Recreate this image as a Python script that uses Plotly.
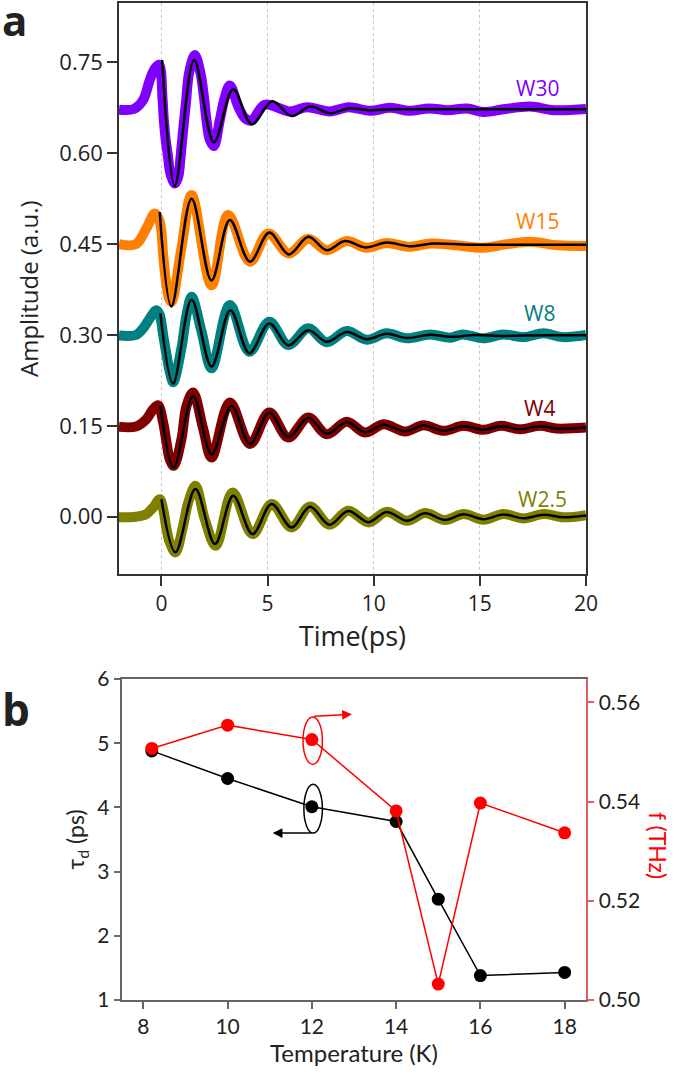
import plotly.graph_objects as go

# ---------------- Panel a: data ----------------
series_names = ["W30", "W15", "W8", "W4", "W2.5"]
series_colors = ["#8000ff", "#ff8000", "#008080", "#800000", "#808000"]

w30_t = [-2.0, -1.3, -0.86, -0.55, -0.31, -0.11, 0.05, 0.11, 0.20, 0.31, 0.39, 0.52, 0.63, 0.79, 0.90, 1.02, 1.15, 1.30, 1.57, 1.84, 2.0, 2.12, 2.28, 2.47, 2.75, 2.99, 3.22, 3.62, 3.93, 4.25, 4.87, 6.05, 6.84, 7.94, 8.81, 9.83, 10.77, 11.7, 12.6, 13.5, 14.4, 15.17, 16.2, 17.37, 18.5, 20.0]
w30_a = [0.672, 0.673, 0.688, 0.721, 0.740, 0.746, 0.690, 0.655, 0.622, 0.594, 0.572, 0.556, 0.550, 0.561, 0.594, 0.638, 0.682, 0.732, 0.762, 0.732, 0.693, 0.655, 0.622, 0.612, 0.655, 0.693, 0.712, 0.677, 0.658, 0.654, 0.680, 0.669, 0.676, 0.669, 0.676, 0.670, 0.675, 0.670, 0.674, 0.671, 0.674, 0.668, 0.673, 0.677, 0.671, 0.673]
w30_fit_t = [0.03, 0.63, 1.54, 2.47, 3.38, 4.25, 5.22, 6.13, 7.0, 7.94, 8.81, 9.83, 11.0, 14.0, 17.0, 20.0]
w30_fit_a = [0.754, 0.546, 0.754, 0.618, 0.7055, 0.648, 0.686, 0.6615, 0.677, 0.666, 0.674, 0.671, 0.6725, 0.6725, 0.6725, 0.6725]

w15_t = [-2.0, -1.2, -0.71, -0.31, -0.08, 0.08, 0.16, 0.24, 0.36, 0.47, 0.94, 1.42, 2.36, 3.14, 4.17, 5.03, 6.0, 6.92, 7.78, 8.73, 9.67, 10.6, 11.7, 12.66, 13.9, 15.17, 16.3, 17.37, 18.7, 20.0]
w15_a = [0.450, 0.450, 0.476, 0.5005, 0.487, 0.432, 0.404, 0.382, 0.360, 0.355, 0.443, 0.531, 0.382, 0.498, 0.421, 0.4676, 0.4346, 0.459, 0.440, 0.455, 0.444, 0.452, 0.4456, 0.451, 0.448, 0.444, 0.450, 0.454, 0.448, 0.447]
w15_fit_t = [-0.08, 0.47, 1.42, 2.36, 3.22, 4.17, 5.08, 6.0, 6.92, 7.78, 8.65, 9.6, 10.6, 11.7, 12.8, 14.5, 17.0, 20.0]
w15_fit_a = [0.503, 0.347, 0.525, 0.390, 0.490, 0.421, 0.469, 0.433, 0.462, 0.440, 0.455, 0.4445, 0.4525, 0.4465, 0.451, 0.449, 0.449, 0.449]

w8_t = [-2.0, -1.2, -0.86, -0.55, -0.24, -0.08, 0.08, 0.24, 0.39, 0.55, 0.94, 1.18, 1.42, 1.89, 2.36, 3.22, 4.14, 5.08, 5.97, 6.92, 7.78, 8.73, 9.67, 10.6, 11.56, 12.66, 13.6, 14.2, 15.17, 16.1, 17.06, 18.0, 18.9, 20.0]
w8_a = [0.299, 0.300, 0.311, 0.3275, 0.341, 0.333, 0.300, 0.267, 0.2396, 0.222, 0.278, 0.333, 0.363, 0.3055, 0.245, 0.3494, 0.2725, 0.322, 0.2835, 0.311, 0.288, 0.3066, 0.292, 0.3027, 0.2945, 0.301, 0.2956, 0.301, 0.2945, 0.301, 0.2965, 0.3027, 0.2965, 0.300]
w8_fit_t = [-0.05, 0.55, 1.42, 2.36, 3.25, 4.14, 5.08, 5.97, 6.92, 7.78, 8.73, 9.67, 10.6, 11.56, 12.66, 13.6, 14.8, 16.0, 18.0, 20.0]
w8_fit_a = [0.3357, 0.220, 0.358, 0.248, 0.341, 0.270, 0.319, 0.283, 0.308, 0.289, 0.305, 0.293, 0.302, 0.295, 0.3005, 0.297, 0.300, 0.2985, 0.2995, 0.2995]

w4_t = [-2.0, -1.2, -0.71, -0.39, -0.16, 0.08, 0.24, 0.39, 0.58, 0.94, 1.18, 1.49, 1.97, 2.36, 3.22, 4.17, 5.08, 5.97, 6.92, 7.78, 8.73, 9.59, 10.46, 11.48, 12.34, 13.29, 14.23, 15.17, 15.96, 16.9, 17.85, 18.6, 20.0]
w4_a = [0.1484, 0.149, 0.161, 0.1775, 0.184, 0.1555, 0.1225, 0.095, 0.084, 0.128, 0.183, 0.205, 0.1445, 0.0978, 0.1885, 0.120, 0.172, 0.1308, 0.1637, 0.1363, 0.1566, 0.139, 0.1527, 0.1407, 0.151, 0.1418, 0.150, 0.1434, 0.150, 0.1445, 0.150, 0.1456, 0.1473]
w4_fit_t = [-0.05, 0.58, 1.49, 2.36, 3.3, 4.17, 5.08, 5.97, 6.92, 7.78, 8.73, 9.59, 10.46, 11.48, 12.34, 13.29, 14.23, 15.17, 15.96, 16.9, 17.85, 18.6, 20.0]
w4_fit_a = [0.183, 0.081, 0.1995, 0.103, 0.183, 0.120, 0.172, 0.1315, 0.163, 0.137, 0.156, 0.1395, 0.152, 0.141, 0.1505, 0.142, 0.1495, 0.1435, 0.1495, 0.1445, 0.1495, 0.1455, 0.1475]

w25_t = [-2.0, -1.2, -0.71, -0.39, -0.08, 0.08, 0.24, 0.39, 0.66, 1.02, 1.26, 1.60, 2.04, 2.56, 3.35, 4.29, 5.19, 6.13, 7.0, 7.91, 8.8, 9.75, 10.61, 11.56, 12.42, 13.36, 14.23, 15.17, 16.1, 17.06, 18.0, 18.95, 20.0]
w25_a = [-0.001, 0.000, 0.0044, 0.0154, 0.029, 0.0126, -0.0203, -0.0423, -0.0588, -0.0148, 0.0236, 0.0511, -0.0038, -0.0478, 0.040, -0.0286, 0.0209, -0.0176, 0.0170, -0.0132, 0.0099, -0.0093, 0.0082, -0.0066, 0.006, -0.0055, 0.0044, -0.005, 0.0044, -0.0027, 0.0044, -0.001, 0.0027]
w25_fit_t = [0.0, 0.66, 1.60, 2.52, 3.38, 4.29, 5.19, 6.13, 7.0, 7.91, 8.8, 9.75, 10.61, 11.56, 12.42, 13.36, 14.23, 15.17, 16.1, 17.06, 18.0, 18.95, 20.0]
w25_fit_a = [0.029, -0.0588, 0.0456, -0.045, 0.0346, -0.0286, 0.0209, -0.0176, 0.0165, -0.0132, 0.0095, -0.009, 0.008, -0.0066, 0.0058, -0.0052, 0.0042, -0.004, 0.0038, -0.0025, 0.0035, -0.001, 0.002]

data_t = [w30_t, w15_t, w8_t, w4_t, w25_t]
data_a = [w30_a, w15_a, w8_a, w4_a, w25_a]
fit_t = [w30_fit_t, w15_fit_t, w8_fit_t, w4_fit_t, w25_fit_t]
fit_a = [w30_fit_a, w15_fit_a, w8_fit_a, w4_fit_a, w25_fit_a]

label_t = [17.72, 17.72, 17.8, 17.8, 17.95]
label_a = [0.707, 0.4885, 0.3357, 0.180, 0.030]

a_xticks = [0, 5, 10, 15, 20]
a_yticks = [0.0, 0.15, 0.30, 0.45, 0.60, 0.75]

# ---------------- Panel b: data ----------------
temperature = [8.2, 10, 12, 14, 15, 16, 18]
tau_d = [4.88, 4.45, 4.01, 3.78, 2.57, 1.38, 1.43]
freq = [0.5507, 0.5554, 0.5525, 0.5381, 0.5032, 0.5397, 0.5337]

b_xticks = [8, 10, 12, 14, 16, 18]
b_yticks = [1, 2, 3, 4, 5, 6]
b_y2ticks = [0.50, 0.52, 0.54, 0.56]

fig = go.Figure()

for name, col, dt, da, ft, fa in zip(series_names, series_colors, data_t, data_a, fit_t, fit_a):
    fig.add_trace(go.Scatter(x=dt, y=da, mode="lines", name=name,
                             line=dict(color=col, width=10, shape="spline", smoothing=1.0),
                             xaxis="x", yaxis="y", showlegend=False))
    fig.add_trace(go.Scatter(x=ft, y=fa, mode="lines", name=name + " fit",
                             line=dict(color="black", width=2.5, shape="spline", smoothing=1.0),
                             xaxis="x", yaxis="y", showlegend=False))

annotations = []
for name, col, lt, la in zip(series_names, series_colors, label_t, label_a):
    annotations.append(dict(x=lt, y=la, xref="x", yref="y", text=name, showarrow=False,
                            font=dict(family="Open Sans", size=21, color=col)))

fig.add_trace(go.Scatter(x=temperature, y=tau_d, mode="lines+markers", name="tau_d",
                         line=dict(color="black", width=1.5),
                         marker=dict(color="black", size=13),
                         xaxis="x2", yaxis="y2", showlegend=False))
fig.add_trace(go.Scatter(x=temperature, y=freq, mode="lines+markers", name="f",
                         line=dict(color="#ff0000", width=1.5),
                         marker=dict(color="#ff0000", size=13),
                         xaxis="x2", yaxis="y3", showlegend=False))

shapes = [
    dict(type="circle", xref="x2", yref="y2", x0=11.79, x1=12.25, y0=4.67, y1=5.41,
         line=dict(color="#ff0000", width=1.5)),
    dict(type="circle", xref="x2", yref="y2", x0=11.81, x1=12.25, y0=3.60, y1=4.36,
         line=dict(color="black", width=1.5)),
]

W, H = 675, 1073
ml, mr, mt, mb = 119, 89, 3, 73
pw, ph = W - ml - mr, H - mt - mb

def px(xp):
    return (xp - ml) / pw

def py(yp):
    return 1 - (yp - mt) / ph

annotations += [
    dict(x=12.95, y=5.45, ax=12.02, ay=5.42, xref="x2", yref="y2", axref="x2", ayref="y2",
         text="", showarrow=True, arrowhead=2, arrowsize=1.3, arrowwidth=1.5, arrowcolor="#ff0000"),
    dict(x=11.07, y=3.60, ax=12.02, ay=3.60, xref="x2", yref="y2", axref="x2", ayref="y2",
         text="", showarrow=True, arrowhead=2, arrowsize=1.3, arrowwidth=1.5, arrowcolor="black"),
    dict(x=px(658), y=py(845), xref="paper", yref="paper", text="f (THz)", showarrow=False,
         textangle=90, xanchor="center", yanchor="middle",
         font=dict(family="Lato", size=23, color="#ff0000")),
    dict(text="<b>a</b>", x=px(14), y=py(19), xref="paper", yref="paper", showarrow=False,
         xanchor="center", yanchor="middle",
         font=dict(family="Open Sans", size=42, color="#222222")),
    dict(text="<b>b</b>", x=px(16), y=py(709), xref="paper", yref="paper", showarrow=False,
         xanchor="center", yanchor="middle",
         font=dict(family="Open Sans", size=44, color="#222222")),
]

fig.update_layout(
    width=W, height=H,
    margin=dict(l=ml, r=mr, t=mt, b=mb, autoexpand=False),
    paper_bgcolor="white", plot_bgcolor="white",
    showlegend=False,
    shapes=shapes,
    annotations=annotations,
    xaxis=dict(domain=[0, 1], range=[-2, 20], tickvals=a_xticks, ticks="outside", ticklen=10,
               tickwidth=1.5, tickcolor="#333", showline=True, linecolor="#333", linewidth=1.5,
               mirror=True, showgrid=True, gridcolor="#c8c8c8", griddash="dot", gridwidth=1,
               zeroline=False, anchor="y", automargin=False,
               tickfont=dict(family="Open Sans", size=21, color="#222"),
               title=dict(text="Time(ps)", font=dict(family="Open Sans", size=27, color="#222"), standoff=0)),
    yaxis=dict(domain=[py(574.3), 1], range=[-0.095, 0.848], tickvals=a_yticks, tickformat=".2f",
               ticks="outside", ticklen=10, tickwidth=1.5, tickcolor="#333",
               showline=True, linecolor="#333", linewidth=1.5, mirror=True, showgrid=False,
               zeroline=False, anchor="x", automargin=False,
               tickfont=dict(family="Open Sans", size=22, color="#222"),
               title=dict(text="Amplitude (a.u.)", font=dict(family="Open Sans", size=24, color="#222"), standoff=14)),
    xaxis2=dict(domain=[px(122.3), px(585.7)], range=[7.5, 18.5], tickvals=b_xticks,
                ticks="outside", ticklen=7, tickwidth=1.5, tickcolor="#666",
                showline=True, linecolor="#666", linewidth=1.5, mirror=True, showgrid=False,
                zeroline=False, anchor="y2", automargin=False,
                tickfont=dict(family="Lato", size=21, color="#222"),
                title=dict(text="Temperature (K)", font=dict(family="Lato", size=24, color="#222"), standoff=5)),
    yaxis2=dict(domain=[0, py(679)], range=[1, 6], tickvals=b_yticks,
                ticks="outside", ticklen=7, tickwidth=1.5, tickcolor="#666",
                showline=True, linecolor="#666", linewidth=1.5, showgrid=False,
                zeroline=False, anchor="x2", automargin=False,
                tickfont=dict(family="Lato", size=21, color="#222"),
                title=dict(text="τ<sub>d</sub> (ps)", font=dict(family="Lato", size=23, color="#222"), standoff=6)),
    yaxis3=dict(overlaying="y2", side="right", anchor="x2", range=[0.50, 0.5647], tickvals=b_y2ticks,
                tickformat=".2f", ticks="outside", ticklen=7, tickwidth=1.5, tickcolor="#e06060",
                showline=True, linecolor="#e06060", linewidth=1.5, showgrid=False, zeroline=False,
                automargin=False,
                tickfont=dict(family="Lato", size=21, color="#222")),
)

fig.write_html("out.html", config={"displayModeBar": False},
               post_script="document.body.style.margin='0px';")
